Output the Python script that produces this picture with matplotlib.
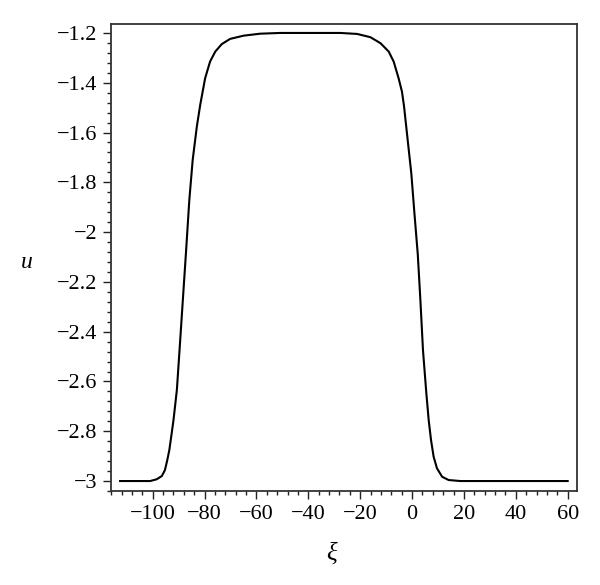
import matplotlib

matplotlib.use("agg")

import matplotlib.pyplot as plt
from matplotlib.ticker import MultipleLocator, FuncFormatter

# points (xi, u)
xi = [-112.6, -105.0, -101.0, -98.5, -96.5, -95.3, -94.4, -93.6, -92.7, -92.0,
      -90.7, -89.5, -88.4, -87.2, -85.9, -84.6, -83.0, -81.7, -79.8, -77.9,
      -75.9, -73.4, -70.2, -65.0, -58.6, -50.8, -42.5, -35.0, -27.7, -21.2,
      -16.1, -12.2, -9.0, -7.1, -5.2, -3.9, -3.1, -1.7, -0.3, 0.9,
      2.2, 3.2, 4.2, 5.5, 6.4, 7.3, 8.3, 9.6, 11.6, 14.1,
      18.6, 30.2, 45.0, 60.0]
u = [-3.0, -3.0, -3.0, -2.993, -2.980, -2.956, -2.916, -2.875, -2.808, -2.755,
     -2.634, -2.447, -2.273, -2.084, -1.871, -1.710, -1.576, -1.489, -1.382, -1.315,
     -1.275, -1.245, -1.224, -1.211, -1.203, -1.200, -1.200, -1.200, -1.200, -1.204,
     -1.217, -1.241, -1.275, -1.315, -1.382, -1.436, -1.495, -1.630, -1.764, -1.924,
     -2.090, -2.273, -2.474, -2.648, -2.755, -2.835, -2.902, -2.949, -2.983, -2.996,
     -3.0, -3.0, -3.0, -3.0]

x_ticks = [-100, -80, -60, -40, -20, 0, 20, 40, 60]
u_ticks = [-3, -2.8, -2.6, -2.4, -2.2, -2, -1.8, -1.6, -1.4, -1.2]

plt.rcParams["font.family"] = ["Liberation Serif", "DejaVu Serif"]

fig = plt.figure(figsize=(6, 5.85), dpi=100)
ax = fig.add_axes([0.185, 0.1607, 0.7767, 0.7983])

ax.plot(xi, u, color="black", lw=1.5, solid_joinstyle="round")

ax.set_xlim(-116.1, 63.6)
ax.set_ylim(-3.040, -1.164)

ax.set_xticks(x_ticks)
ax.set_yticks(u_ticks)
ax.xaxis.set_minor_locator(MultipleLocator(4))
ax.yaxis.set_minor_locator(MultipleLocator(0.04))


def maple_fmt(v, pos):
    return ("%g" % round(v, 4)).replace("-", "\u2212")


ax.xaxis.set_major_formatter(FuncFormatter(maple_fmt))
ax.yaxis.set_major_formatter(FuncFormatter(maple_fmt))

ax.tick_params(which="major", direction="out", length=6, width=1.0,
               labelsize=16, pad=4, color="#222222")
ax.tick_params(which="minor", direction="out", length=3, width=1.0,
               color="#222222")
ax.tick_params(top=False, right=False)

for s in ax.spines.values():
    s.set_linewidth(1.3)
    s.set_color("#333333")

ax.set_ylabel("u", fontsize=17, style="italic", rotation=0, va="center")
ax.yaxis.set_label_coords(-0.18, 0.49)
ax.set_xlabel("\u03be", fontsize=18, style="italic", va="center")
ax.xaxis.set_label_coords(0.474, -0.133)

fig.savefig("out.png", dpi=100)
